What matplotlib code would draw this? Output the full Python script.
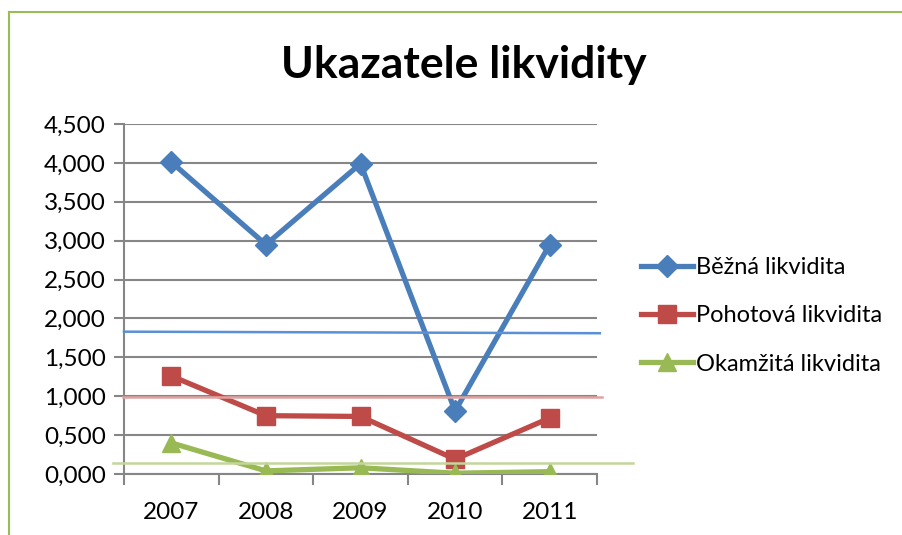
import matplotlib.pyplot as plt
from matplotlib.lines import Line2D
import numpy as np

plt.rcParams['font.family'] = ['Lato', 'DejaVu Sans']

years = ['2007', '2008', '2009', '2010', '2011']
bezna = [4.01, 2.95, 3.99, 0.81, 2.95]
pohotova = [1.26, 0.75, 0.74, 0.19, 0.72]
okamzita = [0.40, 0.04, 0.08, 0.01, 0.03]

# hand-drawn reference lines (value at left end, value at right end, x start, x end)
ref_blue = [1.83, 1.81, -0.5, 4.53]
ref_red = [0.99, 0.99, -0.51, 4.55]
ref_green = [0.14, 0.14, -0.62, 4.88]

yticks = np.arange(0, 4.51, 0.5)

fig = plt.figure(figsize=(9.02, 5.35), dpi=100)
ax = fig.add_axes([124 / 902, 1 - 474 / 535, 473 / 902, 350 / 535])

x = np.arange(len(years))
ax.plot(x, bezna, color='#4a7ebb', lw=3.8, marker='D', ms=11, label='Běžná likvidita', zorder=3)
ax.plot(x, pohotova, color='#be4b48', lw=3.8, marker='s', ms=13, label='Pohotová likvidita', zorder=3)
ax.plot(x, okamzita, color='#98b954', lw=3.8, marker='^', ms=13, label='Okamžitá likvidita', zorder=3)

for ref, col in [(ref_blue, '#5b8fd6'), (ref_red, '#e3a2a0'), (ref_green, '#c3d69b')]:
    ax.plot([ref[2], ref[3]], [ref[0], ref[1]], color=col, lw=1.8, clip_on=False, zorder=4)

ax.set_xlim(-0.5, 4.5)
ax.set_ylim(0, 4.5)
ax.set_yticks(yticks)
ax.set_yticklabels([('%.3f' % v).replace('.', ',') for v in yticks], fontsize=17.5)
ax.set_xticks(np.arange(-0.5, 5, 1))
ax.set_xticklabels([])
ax.set_xticks(x, minor=True)
ax.set_xticklabels(years, minor=True, fontsize=17.5)
ax.tick_params(axis='x', which='minor', length=0, pad=20)
ax.tick_params(axis='x', which='major', length=8, color='#868686', width=1.5)
ax.tick_params(axis='y', length=7, color='#868686', width=1.5, pad=6)
ax.grid(axis='y', color='#868686', lw=1.5)
ax.set_axisbelow(True)
for s in ['top', 'right']:
    ax.spines[s].set_visible(False)
for s in ['left', 'bottom']:
    ax.spines[s].set_color('#868686')
    ax.spines[s].set_linewidth(1.5)

fig.text(464 / 902, 1 - 65 / 535, 'Ukazatele likvidity', ha='center', va='center',
         fontsize=32, fontweight='bold')

handles, labels = ax.get_legend_handles_labels()
fig.legend(handles, labels, loc='center left', bbox_to_anchor=(620 / 902, 1 - 316 / 535),
           frameon=False, fontsize=17, handlelength=2.2, handletextpad=0.1, labelspacing=1.15)

fig.add_artist(Line2D([9 / 902, 9 / 902], [1 - 534 / 535, 1 - 11.5 / 535], color='#9bbb59', lw=1.5))
fig.add_artist(Line2D([9 / 902, 1], [1 - 11.5 / 535, 1 - 11.5 / 535], color='#9bbb59', lw=1.5))

fig.savefig('out.png', dpi=100)
